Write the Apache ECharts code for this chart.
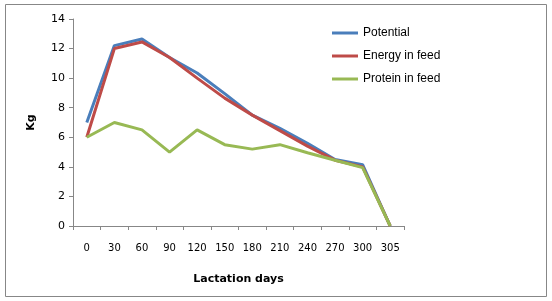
<!DOCTYPE html>
<html>
<head>
<meta charset="utf-8">
<script src="https://cdn.jsdelivr.net/npm/echarts@6/dist/echarts.min.js"></script>
<style>
  html, body { margin: 0; padding: 0; background: #fff; }
  #chart { width: 552px; height: 301px; }
</style>
</head>
<body>
<div id="chart"></div>
<script>
const days = ["0", "30", "60", "90", "120", "150", "180", "210", "240", "270", "300", "305"];
const potential = [7, 12.2, 12.65, 11.4, 10.35, 8.95, 7.5, 6.6, 5.6, 4.5, 4.15, 0];
const energyInFeed = [6, 12, 12.45, 11.4, 10, 8.65, 7.5, 6.45, 5.4, 4.45, 4.0, 0];
const proteinInFeed = [6, 7, 6.5, 5, 6.5, 5.5, 5.2, 5.5, 4.95, 4.45, 3.95, 0];

const chart = echarts.init(document.getElementById("chart"));
const font = "DejaVu Sans";

const option = {
  animation: false,
  graphic: [
    {
      type: "rect",
      shape: { x: 5.5, y: 4.5, width: 541, height: 292 },
      style: { fill: "none", stroke: "#878787", lineWidth: 1 }
    }
  ],
  grid: { left: 73, right: 148, top: 19, bottom: 75 },
  legend: {
    orient: "vertical",
    left: 327,
    top: 22,
    icon: "rect",
    itemWidth: 26,
    itemHeight: 3,
    itemGap: 11,
    textStyle: { fontFamily: "Liberation Sans", fontSize: 12, color: "#000" },
    data: ["Potential", "Energy in feed", "Protein in feed"]
  },
  xAxis: {
    type: "category",
    boundaryGap: true,
    data: days,
    name: "Lactation days",
    nameLocation: "middle",
    nameGap: 48,
    nameTextStyle: { fontFamily: font, fontSize: 11, fontWeight: "bold", color: "#000" },
    axisLine: { lineStyle: { color: "#878787" } },
    axisTick: { show: true, length: 4, inside: false, lineStyle: { color: "#878787" } },
    axisLabel: { fontFamily: font, fontSize: 10, color: "#000", margin: 17, interval: 0 },
    splitLine: { show: false }
  },
  yAxis: {
    type: "value",
    min: 0,
    max: 14,
    interval: 2,
    name: "Kg",
    nameLocation: "middle",
    nameGap: 36,
    nameRotate: 90,
    nameTextStyle: { fontFamily: font, fontSize: 11, fontWeight: "bold", color: "#000" },
    axisLine: { show: true, lineStyle: { color: "#878787" } },
    axisTick: { show: true, length: 4, lineStyle: { color: "#878787" } },
    axisLabel: { fontFamily: font, fontSize: 11, color: "#000", margin: 8 },
    splitLine: { show: false }
  },
  series: [
    {
      name: "Potential",
      type: "line",
      data: potential,
      showSymbol: false,
      symbol: "none",
      itemStyle: { color: "#4A7EBB" },
      lineStyle: { color: "#4A7EBB", width: 3 }
    },
    {
      name: "Energy in feed",
      type: "line",
      data: energyInFeed,
      showSymbol: false,
      symbol: "none",
      itemStyle: { color: "#BE4B48" },
      lineStyle: { color: "#BE4B48", width: 3 }
    },
    {
      name: "Protein in feed",
      type: "line",
      data: proteinInFeed,
      showSymbol: false,
      symbol: "none",
      itemStyle: { color: "#98B954" },
      lineStyle: { color: "#98B954", width: 3 }
    }
  ]
};

chart.setOption(option);
</script>
</body>
</html>
